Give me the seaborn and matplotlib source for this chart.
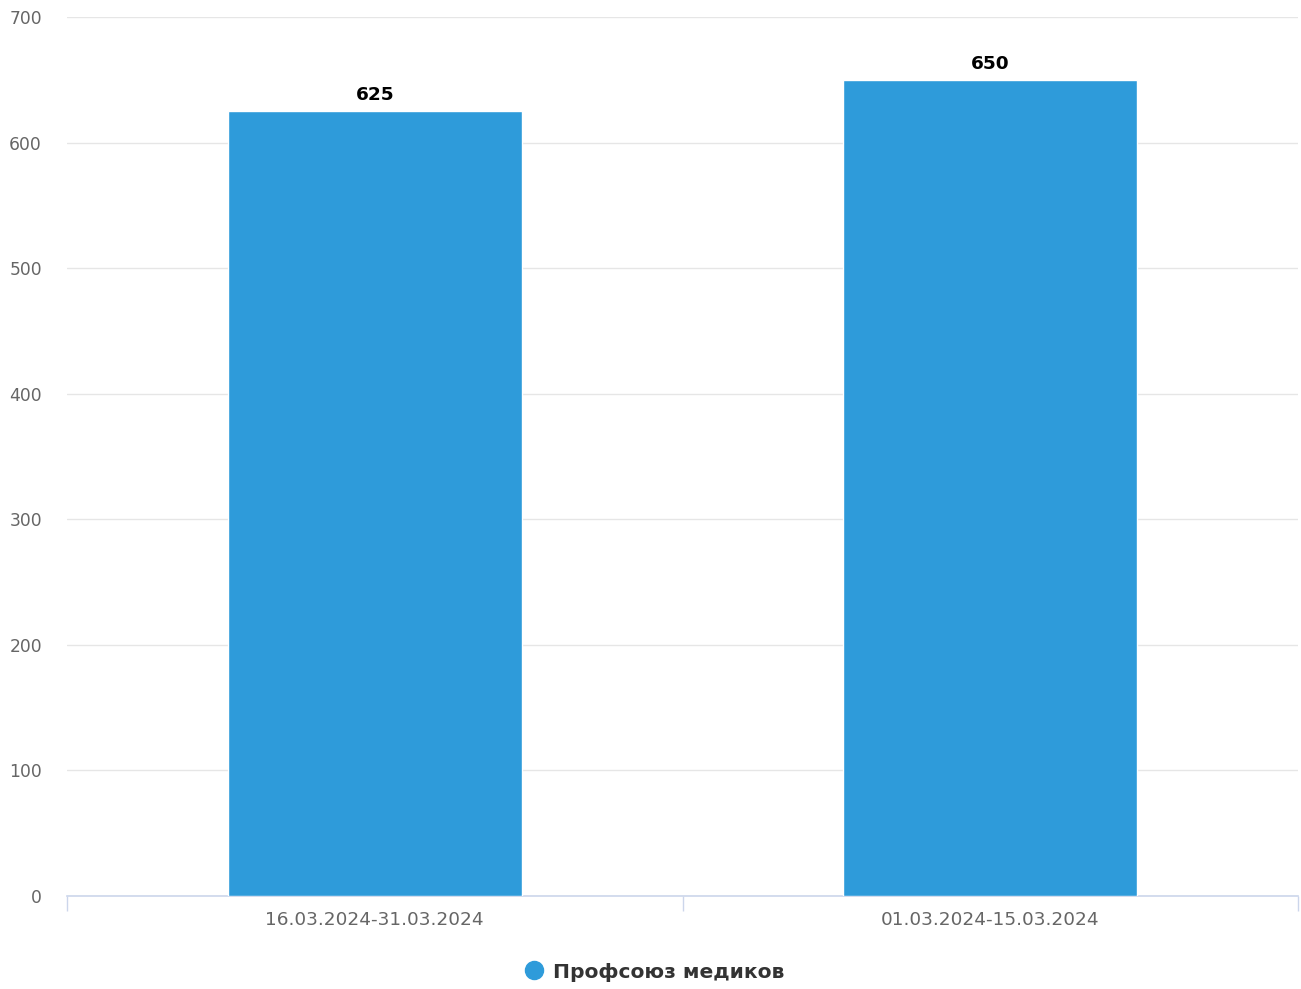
import matplotlib
matplotlib.use("Agg")
import matplotlib.pyplot as plt
from matplotlib.lines import Line2D
import seaborn as sns
import pandas as pd

categories = ["16.03.2024-31.03.2024", "01.03.2024-15.03.2024"]
values = [625, 650]
series_name = "Профсоюз медиков"
yticks = [0, 100, 200, 300, 400, 500, 600, 700]

sns.set_theme(style="white")
plt.rcParams['font.family'] = ['DejaVu Sans']

bar_color = "#2E9BDA"
df = pd.DataFrame({"period": categories, "value": values})

fig = plt.figure(figsize=(13.01, 9.89), dpi=100)
ax = fig.add_axes([67/1301, 93/989, (1298-67)/1301, (896-17)/989])

sns.barplot(data=df, x="period", y="value", order=categories, color=bar_color,
            saturation=1, width=0.478, ax=ax, zorder=3)

ax.set_xlim(-0.5, 1.5)
ax.set_ylim(0, 700)
ax.set_yticks(yticks)
ax.set_yticklabels([str(t) for t in yticks], color="#666666", fontsize=12.3)
ax.yaxis.grid(True, color="#e6e6e6", linewidth=1)
ax.set_axisbelow(True)
ax.tick_params(axis="y", length=0, pad=18)
ax.tick_params(axis="x", which="major", length=0, pad=11, labelsize=13.3, labelcolor="#666666")
ax.set_xticks([-0.5, 0.5, 1.5], minor=True)
ax.tick_params(axis="x", which="minor", bottom=True, length=11, width=1, color="#ccd6eb", direction="out")
ax.set_xlabel("")
ax.set_ylabel("")
for s in ["top", "right", "left"]:
    ax.spines[s].set_visible(False)
ax.spines["bottom"].set_color("#ccd6eb")
ax.spines["bottom"].set_linewidth(1.2)

for i, v in enumerate(values):
    ax.annotate(str(v), (i, v), xytext=(0, 5), textcoords="offset points",
                ha="center", va="bottom", fontsize=13.3, fontweight="bold", color="#000000")

handle = Line2D([], [], marker="o", linestyle="", markersize=13,
                markerfacecolor=bar_color, markeredgecolor=bar_color)
fig.legend([handle], [series_name], loc="center", bbox_to_anchor=(654/1301, 17/989),
           frameon=False, prop={"size": 14.6, "weight": "bold"}, labelcolor="#333333",
           handlelength=1.0, handletextpad=0.45)

fig.savefig("out.png", dpi=100)
